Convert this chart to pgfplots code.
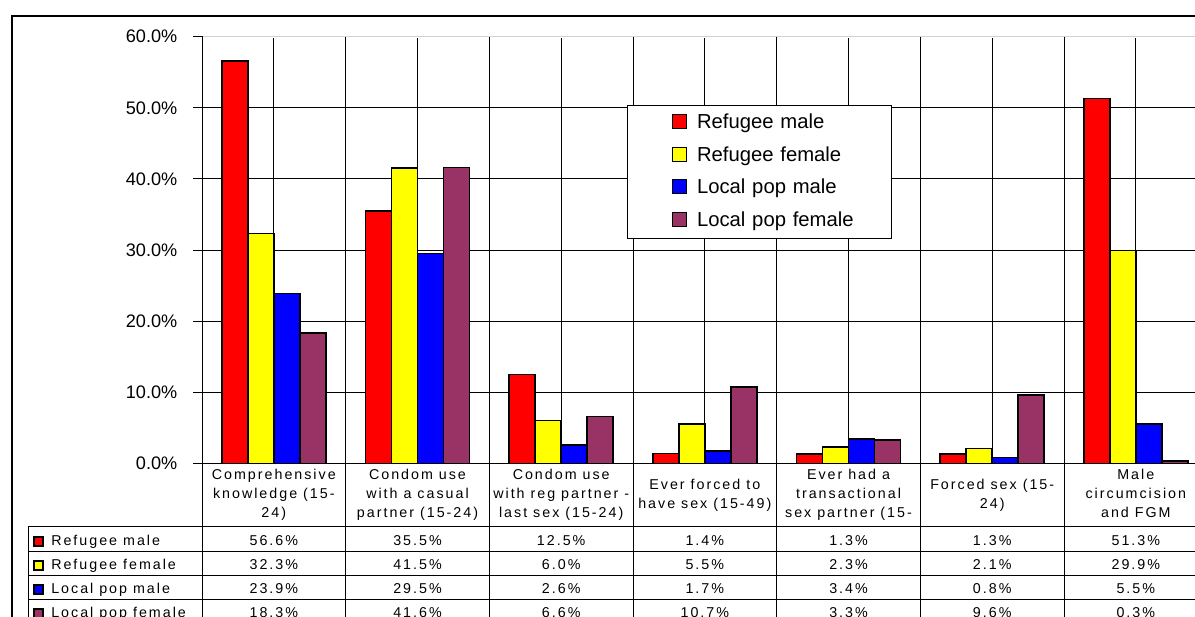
\documentclass[border=0pt]{standalone}
\usepackage{pgfplots}
\pgfplotsset{compat=1.18}
\usepackage{fontspec}
\setmainfont{Liberation Sans}
\newfontfamily\tabfont[LetterSpace=14]{Liberation Sans}
\definecolor{rmale}{HTML}{FF0000}
\definecolor{rfem}{HTML}{FFFF00}
\definecolor{lmale}{HTML}{0000FF}
\definecolor{lfem}{HTML}{993366}
\newcommand{\tf}{\tabfont\fontsize{10.7}{12}\selectfont}
\begin{document}
\begin{tikzpicture}[x=0.75pt,y=0.75pt]
\useasboundingbox (0,0) rectangle (1195,617);
\clip (0,0) rectangle (1195,617);
\begin{axis}[
  at={(151.5pt,115.275pt)}, anchor=south west,
  scale only axis, width=754.275pt, height=319.95pt,
  xmin=0, xmax=7, ymin=0, ymax=60,
  ybar=0pt, bar width=0.181,
  axis lines=left, axis line style={-, black, line width=0.75pt},
  xtick={0,0.5,1,1.5,2,2.5,3,3.5,4,4.5,5,5.5,6,6.5,7}, xticklabels={}, xtick style={draw=none},
  ytick={0,10,20,30,40,50,60},
  xmajorgrids, ymajorgrids,
  major grid style={black, line width=0.7pt},
  tick align=outside, major tick length=6.75pt,
  ytick style={black, line width=0.7pt},
  /pgf/number format/assume math mode=true,
  yticklabel={\pgfmathprintnumber[fixed,fixed zerofill,precision=1]{\tick}\%},
  yticklabel style={font=\fontsize{13.6}{15}\selectfont, xshift=-8.25pt},
  legend style={at={(axis description cs:0.4226,0.8399)}, anchor=north west,
    draw=black, line width=0.75pt, fill=white, inner xsep=0pt, inner ysep=2.5pt,
    row sep=2.875pt, font=\fontsize{15.2}{18}\selectfont,
    nodes={inner sep=0pt, text height=15pt, text depth=6.5pt, text width=145.5pt, align=left, anchor=base west},
    /tikz/every odd column/.style={column sep=7.5pt}},
  legend image code/.code={\path[draw=none, fill=none] (-33.75pt,0pt) -- (10.5pt,0pt); \draw[#1, draw=black, line width=0.8pt] (0pt,0pt) rectangle (10.5pt,10.5pt);},
  clip=false,
]
\addplot[fill=rmale, draw=black, line width=1.1pt] coordinates {(0.5,56.6) (1.5,35.5) (2.5,12.5) (3.5,1.4) (4.5,1.3) (5.5,1.3) (6.5,51.3)};
\addplot[fill=rfem, draw=black, line width=1.1pt] coordinates {(0.5,32.3) (1.5,41.5) (2.5,6.0) (3.5,5.5) (4.5,2.3) (5.5,2.1) (6.5,29.9)};
\addplot[fill=lmale, draw=black, line width=1.1pt] coordinates {(0.5,23.9) (1.5,29.5) (2.5,2.6) (3.5,1.7) (4.5,3.4) (5.5,0.8) (6.5,5.5)};
\addplot[fill=lfem, draw=black, line width=1.1pt] coordinates {(0.5,18.3) (1.5,41.6) (2.5,6.6) (3.5,10.7) (4.5,3.3) (5.5,9.6) (6.5,0.3)};
\legend{Refugee male, Refugee female, Local pop male, Local pop female}
\end{axis}
% light top gridline
\draw[white, line width=1.3pt] (203,580.3) -- (1200,580.3);
\draw[black!18, line width=0.75pt] (202.5,580.3) -- (1200,580.3);
\foreach \k in {1,...,7} {\draw[black, line width=0.75pt] (202+143.67*\k,580.3) -- (202+143.67*\k,579);}
% outer frame
\draw[black, line width=1.5pt] (12.3,-5) -- (12.3,601.3) -- (1205,601.3);
% table grid
\foreach \yy in {90,65.5,41.5,17.5} {\draw[black, line width=0.75pt] (28,\yy) -- (1200,\yy);}
\draw[black, line width=0.75pt] (28,90) -- (28,-5);
\foreach \k in {0,...,7} {\draw[black, line width=0.75pt] (202+143.67*\k,153.7) -- (202+143.67*\k,-5);}
% row labels
\draw[black, line width=0.8pt, fill=rmale] (34,71) rectangle (43,80);
\draw[black, line width=0.8pt, fill=rfem] (34,47) rectangle (43,56);
\draw[black, line width=0.8pt, fill=lmale] (34,23) rectangle (43,32);
\draw[black, line width=0.8pt, fill=lfem] (34,-1) rectangle (43,8);
\node[anchor=base west, inner sep=0pt, font=\tf] at (51,71) {Refugee male};
\node[anchor=base west, inner sep=0pt, font=\tf] at (51,47) {Refugee female};
\node[anchor=base west, inner sep=0pt, font=\tf] at (51,23) {Local pop male};
\node[anchor=base west, inner sep=0pt, font=\tf] at (51,-1) {Local pop female};
% header labels
\begin{scope}[every node/.style={anchor=base, inner sep=0pt, font=\tf}]
\node at (273.8,137) {Comprehensive};
\node at (273.8,118) {knowledge (15-};
\node at (273.8,99) {24)};
\node at (417.5,137) {Condom use};
\node at (417.5,118) {with a casual};
\node at (417.5,99) {partner (15-24)};
\node at (561.2,137) {Condom use};
\node at (561.2,118) {with reg partner -};
\node at (561.2,99) {last sex (15-24)};
\node at (704.8,127) {Ever forced to};
\node at (704.8,108) {have sex (15-49)};
\node at (848.5,137) {Ever had a};
\node at (848.5,118) {transactional};
\node at (848.5,99) {sex partner (15-};
\node at (992.2,127) {Forced sex (15-};
\node at (992.2,108) {24)};
\node at (1135.8,137) {Male};
\node at (1135.8,118) {circumcision};
\node at (1135.8,99) {and FGM};
% values
\node at (273.8,71) {56.6\%}; \node at (273.8,47) {32.3\%}; \node at (273.8,23) {23.9\%}; \node at (273.8,-1) {18.3\%};
\node at (417.5,71) {35.5\%}; \node at (417.5,47) {41.5\%}; \node at (417.5,23) {29.5\%}; \node at (417.5,-1) {41.6\%};
\node at (561.2,71) {12.5\%}; \node at (561.2,47) {6.0\%}; \node at (561.2,23) {2.6\%}; \node at (561.2,-1) {6.6\%};
\node at (704.8,71) {1.4\%}; \node at (704.8,47) {5.5\%}; \node at (704.8,23) {1.7\%}; \node at (704.8,-1) {10.7\%};
\node at (848.5,71) {1.3\%}; \node at (848.5,47) {2.3\%}; \node at (848.5,23) {3.4\%}; \node at (848.5,-1) {3.3\%};
\node at (992.2,71) {1.3\%}; \node at (992.2,47) {2.1\%}; \node at (992.2,23) {0.8\%}; \node at (992.2,-1) {9.6\%};
\node at (1135.8,71) {51.3\%}; \node at (1135.8,47) {29.9\%}; \node at (1135.8,23) {5.5\%}; \node at (1135.8,-1) {0.3\%};
\end{scope}
\end{tikzpicture}
\end{document}
